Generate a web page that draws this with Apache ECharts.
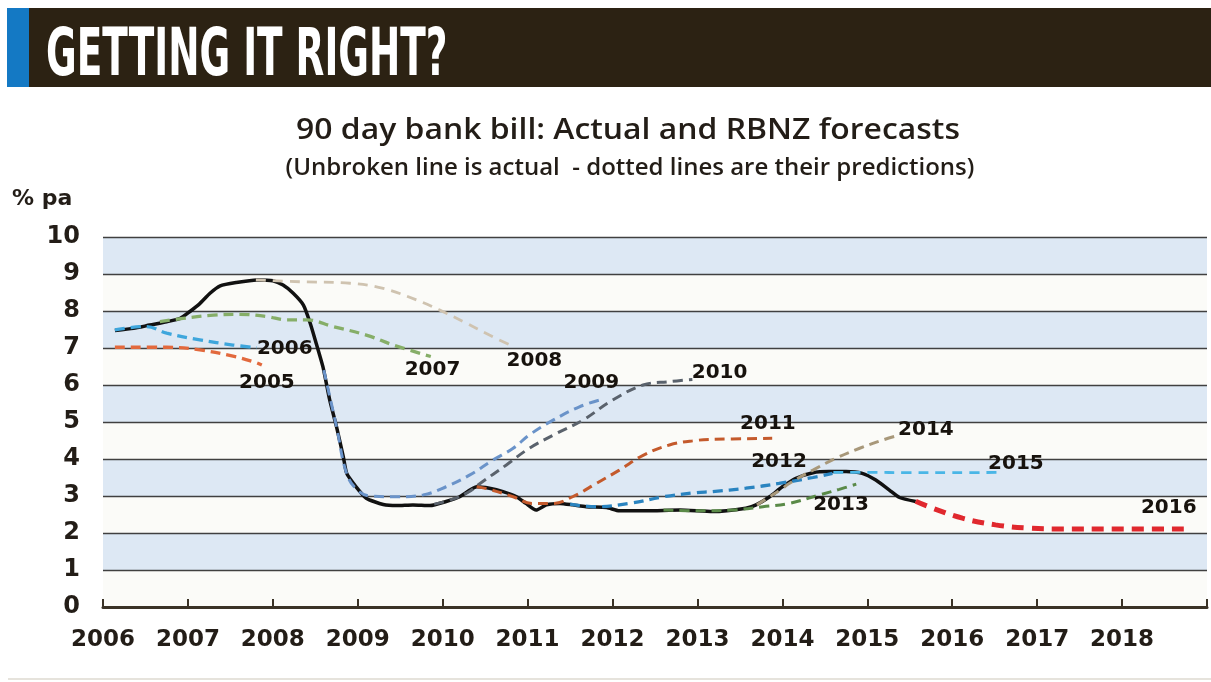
<!DOCTYPE html>
<html>
<head>
<meta charset="utf-8">
<script src="https://cdn.jsdelivr.net/npm/echarts@6/dist/echarts.min.js"></script>
<style>
html,body{margin:0;padding:0;background:#ffffff;}
#chart{width:1211px;height:682px;}
</style>
</head>
<body>
<div id="chart"></div>
<script>
// ---- Data (year, % pa) ----
var yearTicks = [2006, 2007, 2008, 2009, 2010, 2011, 2012, 2013, 2014, 2015, 2016, 2017, 2018];

var actual = [[2006.14,7.47],[2006.36,7.53],[2006.55,7.62],[2006.75,7.71],[2006.91,7.8],[2007.02,7.98],[2007.14,8.2],[2007.26,8.48],[2007.38,8.68],[2007.57,8.77],[2007.81,8.84],[2008.0,8.82],[2008.12,8.7],[2008.24,8.48],[2008.36,8.16],[2008.44,7.67],[2008.51,7.13],[2008.59,6.49],[2008.67,5.59],[2008.75,4.87],[2008.83,4.06],[2008.87,3.61],[2008.98,3.25],[2009.1,2.94],[2009.3,2.77],[2009.46,2.74],[2009.65,2.76],[2009.85,2.74],[2010.04,2.85],[2010.2,2.98],[2010.4,3.25],[2010.55,3.21],[2010.71,3.12],[2010.87,2.98],[2010.98,2.8],[2011.1,2.62],[2011.22,2.76],[2011.38,2.8],[2011.53,2.76],[2011.69,2.71],[2011.93,2.69],[2012.08,2.6],[2012.4,2.6],[2012.79,2.62],[2013.18,2.58],[2013.57,2.67],[2013.69,2.76],[2013.85,2.98],[2014.0,3.25],[2014.16,3.48],[2014.36,3.63],[2014.55,3.66],[2014.75,3.66],[2014.94,3.61],[2015.1,3.43],[2015.26,3.16],[2015.38,2.96],[2015.57,2.85]];

var fc2005 = [[2006.14,7.02],[2006.75,7.02],[2007.14,6.95],[2007.53,6.78],[2007.77,6.63],[2007.87,6.54]];
var fc2006 = [[2006.14,7.49],[2006.51,7.58],[2006.75,7.4],[2007.14,7.22],[2007.53,7.08],[2007.81,7.01]];
var fc2007 = [[2006.67,7.71],[2006.94,7.8],[2007.3,7.89],[2007.61,7.91],[2007.93,7.85],[2008.16,7.76],[2008.4,7.76],[2008.71,7.58],[2009.1,7.35],[2009.42,7.08],[2009.86,6.77]];
var fc2008 = [[2007.8,8.84],[2008.32,8.79],[2008.91,8.75],[2009.3,8.61],[2009.69,8.3],[2009.96,8.03],[2010.28,7.67],[2010.55,7.35],[2010.83,7.04]];
var fc2009 = [[2008.6,6.4],[2008.75,4.87],[2008.87,3.6],[2009.0,3.15],[2009.15,3.0],[2009.46,2.98],[2009.77,3.03],[2010.04,3.25],[2010.32,3.57],[2010.59,3.97],[2010.83,4.29],[2011.02,4.65],[2011.3,5.05],[2011.61,5.41],[2011.87,5.61]];
var fc2010 = [[2009.9,2.78],[2010.1,2.9],[2010.3,3.1],[2010.44,3.34],[2010.75,3.84],[2011.02,4.29],[2011.34,4.69],[2011.65,5.05],[2012.0,5.59],[2012.36,6.0],[2012.67,6.09],[2012.94,6.15]];
var fc2011 = [[2010.4,3.25],[2010.55,3.18],[2010.83,2.98],[2011.05,2.8],[2011.3,2.8],[2011.53,2.98],[2011.81,3.34],[2012.08,3.7],[2012.36,4.1],[2012.67,4.38],[2012.98,4.5],[2013.18,4.53],[2013.88,4.56]];
var fc2012 = [[2011.5,2.78],[2011.8,2.71],[2012.2,2.8],[2012.6,2.98],[2012.98,3.09],[2013.18,3.12],[2013.57,3.21],[2013.96,3.34],[2014.36,3.5],[2014.59,3.61]];
var fc2013 = [[2012.6,2.62],[2013.0,2.6],[2013.4,2.62],[2013.77,2.71],[2014.08,2.8],[2014.44,3.03],[2014.67,3.18],[2014.87,3.32]];
var fc2014 = [[2013.7,2.76],[2013.85,2.98],[2014.0,3.2],[2014.08,3.34],[2014.36,3.7],[2014.63,4.02],[2014.91,4.29],[2015.18,4.51],[2015.38,4.65]];
var fc2015 = [[2014.6,3.64],[2015.0,3.64],[2015.5,3.63],[2016.0,3.63],[2016.59,3.64]];
var fc2016 = [[2015.57,2.86],[2015.77,2.67],[2016.12,2.4],[2016.51,2.22],[2016.91,2.13],[2017.3,2.11],[2017.9,2.11],[2018.75,2.11]];

// forecast year labels: [year position, value position, text]
var forecastLabels = [[2007.93,6.05,'2005'],[2008.14,6.99,'2006'],[2009.88,6.41,'2007'],[2011.08,6.66,'2008'],[2011.75,6.06,'2009'],[2013.26,6.32,'2010'],[2013.83,4.96,'2011'],[2013.96,3.93,'2012'],[2014.69,2.76,'2013'],[2015.69,4.8,'2014'],[2016.75,3.88,'2015'],[2018.55,2.68,'2016']];

var titleText = 'GETTING IT RIGHT?';
var chartTitle = '90 day bank bill: Actual and RBNZ forecasts';
var chartSubtitle = '(Unbroken line is actual  - dotted lines are their predictions)';
var unitLabel = '% pa';

// ---- Chart ----
var chart = echarts.init(document.getElementById('chart'), null, {renderer: 'canvas'});
var TXT = '#231d17';

function fc(name, data, color, width, dash) {
  return {
    name: name, type: 'line', data: data, smooth: 0.4, symbol: 'none', z: 3,
    lineStyle: {color: color, width: width, type: dash},
    silent: true
  };
}

var option = {
  backgroundColor: '#ffffff',
  animation: false,
  grid: {left: 103, right: 4, top: 237, bottom: 75, containLabel: false},
  xAxis: {
    type: 'value', min: 2006, max: 2019, interval: 1,
    axisLine: {show: true, lineStyle: {color: '#3a3226', width: 3}},
    axisTick: {show: true, inside: true, length: 8, lineStyle: {color: '#3a3226', width: 2}},
    splitLine: {show: false},
    axisLabel: {
      margin: 22, color: TXT, fontFamily: 'DejaVu Sans', fontWeight: 'bold', fontSize: 23,
      formatter: function (v) { return yearTicks.indexOf(v) >= 0 ? String(v) : ''; }
    }
  },
  yAxis: {
    type: 'value', min: 0, max: 10, interval: 1,
    axisLine: {show: false}, axisTick: {show: false},
    splitLine: {show: true, lineStyle: {color: '#404040', width: 1.3}},
    splitArea: {show: true, areaStyle: {color: ['#fbfbf8', '#dde8f4']}},
    axisLabel: {margin: 23, color: TXT, fontFamily: 'DejaVu Sans', fontWeight: 'bold', fontSize: 24}
  },
  graphic: [
    {type: 'rect', shape: {x: 29, y: 8, width: 1182, height: 79}, style: {fill: '#2c2213'}},
    {type: 'rect', shape: {x: 7, y: 8, width: 22, height: 79}, style: {fill: '#1479c4'}},
    {type: 'text', x: 46, y: 58, scaleX: 0.63, style: {text: titleText, fill: '#ffffff', font: 'bold 66px "Liberation Sans Narrow", "DejaVu Sans Condensed", sans-serif', textVerticalAlign: 'middle', textAlign: 'left'}},
    {type: 'text', x: 628, y: 131, scaleX: 1.1, style: {text: chartTitle, fill: TXT, font: '600 29px "Open Sans", sans-serif', textAlign: 'center', textVerticalAlign: 'middle'}},
    {type: 'text', x: 630, y: 168, style: {text: chartSubtitle, fill: TXT, font: '600 24px "Open Sans", sans-serif', textAlign: 'center', textVerticalAlign: 'middle'}},
    {type: 'text', x: 12, y: 199, style: {text: unitLabel, fill: TXT, font: 'bold 22px "DejaVu Sans", sans-serif', textAlign: 'left', textVerticalAlign: 'middle'}},
    {type: 'rect', shape: {x: 8, y: 678, width: 1203, height: 2}, style: {fill: '#e6e3dc'}}
  ],
  series: [
    {name: 'Actual', type: 'line', data: actual, smooth: 0.2, symbol: 'none', z: 2, silent: true,
     lineStyle: {color: '#111111', width: 3.5}},
    fc('2005', fc2005, '#e2693d', 3.3, [10, 6]),
    fc('2006', fc2006, '#3ea6dc', 3.3, [10, 6]),
    fc('2007', fc2007, '#86ae68', 3.3, [10, 6]),
    fc('2008', fc2008, '#cfc3b0', 2.8, [10, 7]),
    fc('2009', fc2009, '#6a93c9', 3, [10, 6]),
    fc('2010', fc2010, '#5a626c', 3, [10, 6]),
    fc('2011', fc2011, '#c45a2c', 3, [10, 6]),
    fc('2012', fc2012, '#2a84c0', 3.3, [10, 6]),
    fc('2013', fc2013, '#5a8a48', 3, [10, 6]),
    fc('2014', fc2014, '#a8987a', 3, [10, 6]),
    fc('2015', fc2015, '#4ab6e6', 2.8, [10, 7]),
    fc('2016', fc2016, '#e0282e', 5, [12, 8]),
    {name: 'labels', type: 'scatter', data: forecastLabels, symbolSize: 0, z: 5, silent: true,
     itemStyle: {color: TXT, opacity: 1},
     label: {show: true, position: 'inside', formatter: function (p) { return p.value[2]; },
             color: '#17120d', opacity: 1, textBorderWidth: 0, fontFamily: 'DejaVu Sans', fontWeight: 'bold', fontSize: 20}}
  ]
};
chart.setOption(option);
</script>
</body>
</html>
